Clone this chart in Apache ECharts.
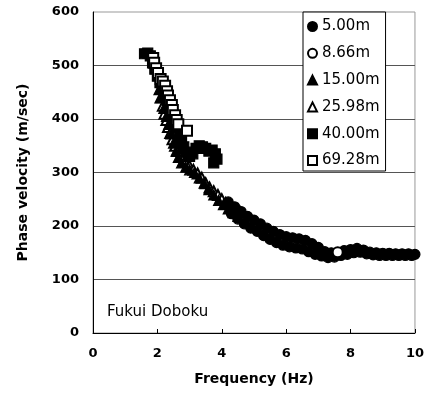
<!DOCTYPE html>
<html>
<head>
  <meta charset="utf-8">
</head>
<body style="margin: 0">
  <div id="container" style="width: 427px; height: 403px"></div>
  <script src="https://cdn.jsdelivr.net/npm/echarts@6/dist/echarts.min.js"></script>
  <script>
    // values: frequency (Hz) and phase velocity (m/sec)
    var f500 = [4.2, 4.3, 4.4, 4.5, 4.6, 4.7, 4.8, 4.9, 5.0, 5.1, 5.2, 5.3, 5.4, 5.5, 5.6, 5.7, 5.8, 5.9, 6.0, 6.1, 6.2, 6.3, 6.4, 6.5, 6.6, 6.7, 6.8, 6.9, 7.0, 7.1, 7.2, 7.3, 7.4, 7.5, 7.7, 7.8, 7.9, 8.0, 8.1, 8.2, 8.3, 8.4, 8.5, 8.6, 8.7, 8.8, 8.9, 9.0, 9.1, 9.2, 9.3, 9.4, 9.5, 9.6, 9.7, 9.8, 9.9, 10.0];
    var v500 = [245, 223, 236, 213, 227, 204, 218, 196, 211, 190, 204, 182, 196, 175, 190, 169, 184, 164, 180, 161, 178, 159, 176, 157, 173, 152, 167, 147, 160, 144, 152, 141, 150, 142, 145, 154, 147, 156, 150, 158, 151, 155, 148, 151, 146, 150, 145, 149, 145, 149, 145, 148, 145, 148, 145, 148, 145, 147];
    var f866 = [7.6];
    var v866 = [151];
    var f1500 = [2.05, 2.12, 2.2, 2.28, 2.35, 2.42, 2.5, 2.58, 2.65, 2.75, 2.88, 3.0, 3.15, 3.3, 3.45, 3.6, 3.75, 3.9, 4.05, 4.2, 4.35, 4.5];
    var v1500 = [455, 440, 420, 405, 390, 372, 355, 340, 328, 318, 310, 305, 300, 290, 280, 268, 258, 248, 240, 232, 225, 218];
    var f2598 = [2.1, 2.17, 2.22, 2.28, 2.33, 2.4, 2.47, 2.55, 2.62, 2.72, 2.85, 3.0, 3.12, 3.25, 3.38, 3.5, 3.62, 3.75, 3.88, 4.0, 4.12, 4.57];
    var v2598 = [440, 425, 410, 398, 385, 374, 362, 350, 340, 330, 320, 312, 305, 298, 290, 280, 272, 265, 258, 250, 243, 226];
    var f4000 = [1.6, 1.7, 1.78, 1.85, 1.92, 2.0, 2.08, 2.15, 2.22, 2.3, 2.38, 2.45, 2.52, 2.6, 2.68, 2.75, 2.82, 2.9, 3.0, 3.1, 3.2, 3.3, 3.4, 3.5, 3.6, 3.7, 3.8, 3.85, 3.75];
    var v4000 = [522, 523, 518, 505, 493, 480, 468, 458, 447, 435, 423, 410, 398, 385, 372, 360, 348, 338, 330, 335, 345, 350, 348, 345, 340, 342, 335, 325, 318];
    var f6928 = [1.87, 1.9, 1.96, 2.02, 2.1, 2.17, 2.24, 2.3, 2.33, 2.39, 2.45, 2.48, 2.55, 2.6, 2.65, 2.92];
    var v6928 = [514, 505, 495, 486, 475, 470, 462, 452, 444, 435, 426, 417, 407, 398, 390, 378];

    function pairs(f, v) {
      var out = [];
      for (var i = 0; i < f.length; i++) out.push([f[i], v[i]]);
      return out;
    }

    var font = 'DejaVu Sans';
    var dom = document.getElementById('container');
    var myChart = echarts.init(dom, null, { renderer: 'canvas' });

    function ser(name, symbol, data) {
      return {
        name: name,
        type: 'scatter',
        symbol: symbol,
        symbolSize: 10,
        data: data,
        itemStyle: { color: '#000', borderColor: '#000', borderWidth: 1.2, opacity: 1 },
        emphasis: { disabled: true }
      };
    }

    var option = {
      animation: false,
      textStyle: { fontFamily: font, color: '#000' },
      grid: {
        left: 93, right: 12, top: 12, bottom: 70,
        show: true, borderColor: '#999', borderWidth: 1
      },
      legend: {
        orient: 'vertical',
        left: 303, top: 12,
        itemWidth: 9, itemHeight: 9, itemGap: 11.8,
        padding: [7, 6, 3, 4],
        backgroundColor: '#fff',
        borderColor: '#000', borderWidth: 1, borderRadius: 0,
        textStyle: { fontFamily: font, fontSize: 15, color: '#000' },
        data: ['5.00m', '8.66m', '15.00m', '25.98m', '40.00m', '69.28m']
      },
      graphic: [{
        type: 'text', left: 107, top: 305,
        style: { text: 'Fukui Doboku', font: '15px "DejaVu Sans"', fill: '#000' }
      }],
      xAxis: {
        type: 'value', min: 0, max: 10, interval: 2,
        name: 'Frequency (Hz)', nameLocation: 'middle', nameGap: 39,
        nameTextStyle: { fontFamily: font, fontSize: 14, fontWeight: 'bold', color: '#000' },
        axisLine: { show: true, lineStyle: { color: '#000', width: 1 } },
        axisTick: { show: true, inside: true, length: 4, lineStyle: { color: '#000' } },
        axisLabel: { fontFamily: font, fontSize: 13, fontWeight: 'bold', color: '#000', margin: 14 },
        splitLine: { show: false }
      },
      yAxis: {
        type: 'value', min: 0, max: 600, interval: 100,
        name: 'Phase velocity (m/sec)', nameLocation: 'middle', nameGap: 63,
        nameTextStyle: { fontFamily: font, fontSize: 14, fontWeight: 'bold', color: '#000' },
        axisLine: { show: true, lineStyle: { color: '#000', width: 1 } },
        axisTick: { show: false },
        axisLabel: { fontFamily: font, fontSize: 13, fontWeight: 'bold', color: '#000', margin: 14 },
        splitLine: { show: true, showMaxLine: false, lineStyle: { color: '#555', width: 1 } }
      },
      series: [
        ser('25.98m', 'emptyTriangle', pairs(f2598, v2598)),
        ser('15.00m', 'triangle', pairs(f1500, v1500)),
        ser('40.00m', 'rect', pairs(f4000, v4000)),
        ser('69.28m', 'emptyRect', pairs(f6928, v6928)),
        ser('5.00m', 'circle', pairs(f500, v500)),
        ser('8.66m', 'emptyCircle', pairs(f866, v866))
      ]
    };

    myChart.setOption(option);
  </script>
</body>
</html>
